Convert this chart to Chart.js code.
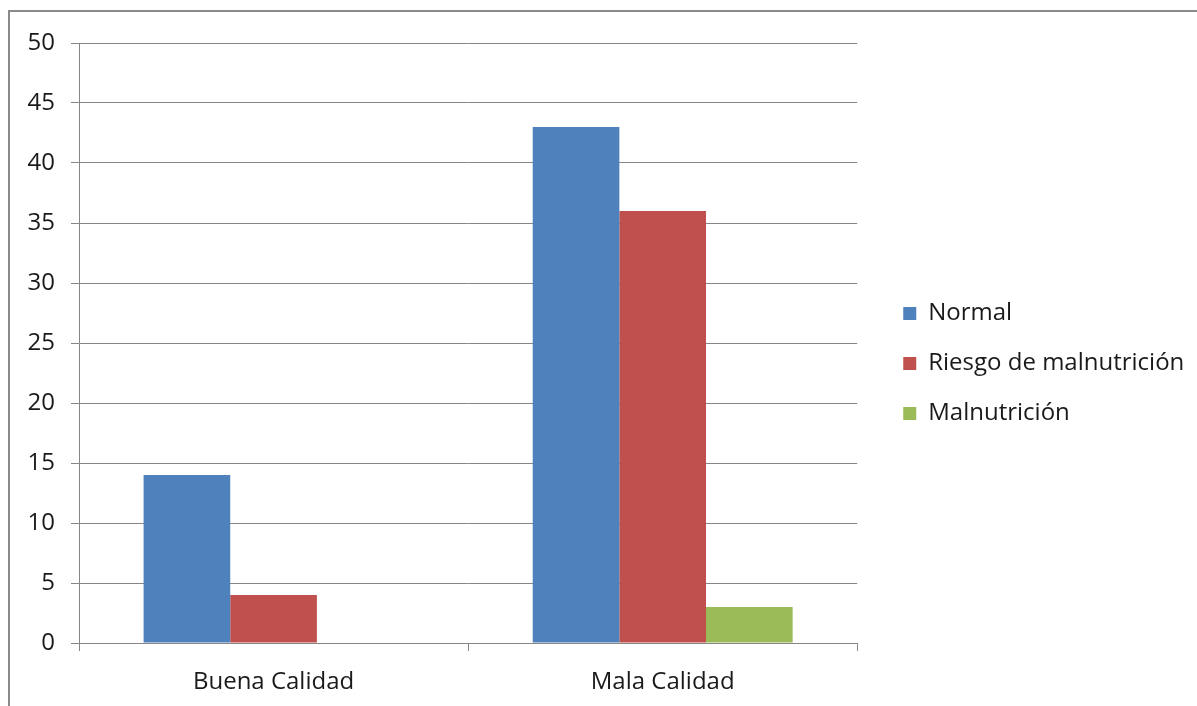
<!DOCTYPE html>
<html>
<head>
<meta charset="utf-8">
<script src="https://cdn.jsdelivr.net/npm/chart.js@4/dist/chart.umd.min.js"></script>
<style>
  html, body { margin: 0; padding: 0; background: #fff; overflow: hidden; }
  #frame {
    position: absolute; left: 8px; top: 10px; width: 1300px; height: 800px;
    border-top: 2px solid #8a8a8a; border-left: 2px solid #8a8a8a;
  }
  #wrap { position: absolute; left: 0; top: 0; width: 1197px; height: 706px; }
</style>
</head>
<body>
<div id="frame"></div>
<div id="wrap"><canvas id="chart" width="1197" height="706"></canvas></div>
<script>
const categories = ['Buena Calidad', 'Mala Calidad'];
const seriesNames = ['Normal', 'Riesgo de malnutrición', 'Malnutrición'];
const normalValues = [14, 43];
const riesgoValues = [4, 36];
const malnutricionValues = [0, 3];
const yMax = 50;
const yStep = 5;

const gridColor = '#868686';
const fontFamily = '"Open Sans", sans-serif';

// legend box gets capped at 1/4 of the width, so move it and let it
// run to the canvas edge instead of being clipped
const legendShift = {
  id: 'legendShift',
  afterLayout(chart) {
    const l = chart.legend;
    if (l) {
      l.left += 20;
      l.right = chart.width;
      l.top -= 11; l.bottom -= 11;
    }
  }
};

function drawChart() {
  const ctx = document.getElementById('chart').getContext('2d');
  new Chart(ctx, {
    type: 'bar',
    data: {
      labels: categories,
      datasets: [
        { label: seriesNames[0], data: normalValues, backgroundColor: '#4F81BD' },
        { label: seriesNames[1], data: riesgoValues, backgroundColor: '#C0504D' },
        { label: seriesNames[2], data: malnutricionValues, backgroundColor: '#9BBB59' },
      ],
    },
    options: {
      responsive: false,
      animation: false,
      layout: { padding: { top: 43, right: 54, bottom: 0, left: 0 } },
      datasets: {
        bar: { categoryPercentage: 0.668, barPercentage: 1.0, borderWidth: 0 },
      },
      scales: {
        x: {
          offset: true,
          grid: { display: true, drawOnChartArea: false, drawTicks: true, tickLength: 8, color: gridColor, offset: true },
          border: { display: true, color: gridColor, width: 1 },
          ticks: { color: '#1a1a1a', padding: 17, font: { family: fontFamily, size: 24 } },
          afterFit: (s) => { s.height = 63; },
        },
        y: {
          min: 0,
          max: yMax,
          ticks: { stepSize: yStep, color: '#1a1a1a', padding: 16, font: { family: fontFamily, size: 24 } },
          grid: { color: gridColor, tickLength: 8 },
          border: { display: true, color: gridColor, width: 1 },
          afterFit: (s) => { s.width = 79; },
        },
      },
      plugins: {
        tooltip: { enabled: false },
        legend: {
          position: 'right',
          align: 'center',
          labels: {
            boxWidth: 13,
            boxHeight: 13,
            padding: 26,
            color: '#1a1a1a',
            font: { family: fontFamily, size: 24 },
          },
        },
      },
    },
    plugins: [legendShift],
  });
}

document.fonts.load('24px "Open Sans"').then(drawChart, drawChart);
</script>
</body>
</html>
